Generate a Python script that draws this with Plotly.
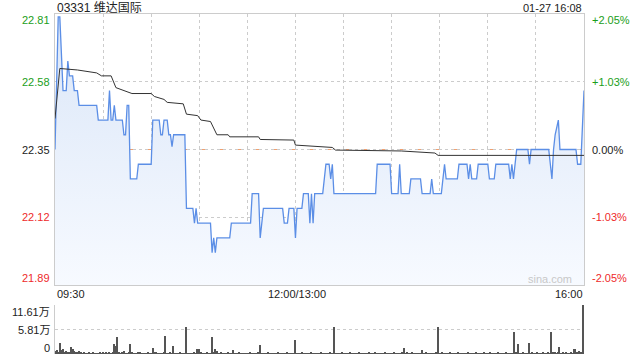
import plotly.graph_objects as go

# ---------------- data ----------------
title_text = "03331 维达国际"
date_text = "01-27 16:08"
prev_close = 22.35
price_ticks = [22.81, 22.58, 22.35, 22.12, 21.89]
pct_ticks = ["+2.05%", "+1.03%", "0.00%", "-1.03%", "-2.05%"]
x_tick_labels = ["09:30", "12:00/13:00", "16:00"]
vol_tick_labels = ["11.61万", "5.81万", "0"]
vol_max = 11.61

# price vertices (minute index from 09:30, price)
price_t = [0, 2, 3, 5, 7, 8, 9, 11, 12, 14, 15, 26, 27, 33, 34, 35, 36, 37, 38, 42,
           43, 44, 45, 46, 47, 51, 52, 60, 61, 65, 66, 67, 68, 70, 71, 72, 73, 74, 81, 82,
           86, 87, 88, 89, 97, 98, 99, 100, 101, 109, 110, 122, 123, 127, 128, 130, 142, 143, 145, 146,
           149, 150, 151, 154, 155, 158, 159, 160, 161, 162, 167, 169, 171, 172, 173, 174, 200, 201, 209, 210,
           214, 215, 216, 221, 222, 228, 229, 234, 235, 236, 241, 243, 244, 251, 252, 257, 258, 259, 260, 263,
           264, 270, 271, 274, 275, 283, 284, 285, 286, 288, 295, 296, 297, 308, 310, 311, 312, 314, 315, 325,
           326, 328, 330]
price_v = [22.35, 22.80, 22.80, 22.55, 22.55, 22.65, 22.60, 22.60, 22.55, 22.55, 22.50, 22.50, 22.45, 22.45, 22.55, 22.45, 22.45, 22.50, 22.45, 22.45,
           22.40, 22.40, 22.50, 22.50, 22.25, 22.25, 22.30, 22.30, 22.45, 22.45, 22.40, 22.40, 22.45, 22.45, 22.40, 22.40, 22.36, 22.40, 22.40, 22.15,
           22.15, 22.10, 22.15, 22.10, 22.10, 22.00, 22.05, 22.00, 22.05, 22.05, 22.10, 22.10, 22.20, 22.20, 22.05, 22.15, 22.15, 22.10, 22.10, 22.15,
           22.15, 22.05, 22.15, 22.15, 22.20, 22.20, 22.10, 22.20, 22.10, 22.20, 22.20, 22.30, 22.30, 22.25, 22.30, 22.20, 22.20, 22.30, 22.30, 22.20,
           22.20, 22.30, 22.20, 22.20, 22.25, 22.25, 22.20, 22.20, 22.25, 22.20, 22.20, 22.30, 22.25, 22.25, 22.30, 22.30, 22.25, 22.30, 22.25, 22.25,
           22.30, 22.30, 22.25, 22.25, 22.30, 22.30, 22.25, 22.30, 22.25, 22.35, 22.35, 22.30, 22.35, 22.35, 22.25, 22.35, 22.40, 22.45, 22.35, 22.35,
           22.30, 22.30, 22.55]

# average price vertices
avg_t = [0, 3, 14, 26, 29, 35, 38, 46, 48, 60, 62, 68, 70, 80, 82, 89, 91, 97, 101, 108,
         109, 127, 128, 149, 150, 173, 175, 216, 237, 239, 330]
avg_v = [22.455, 22.625, 22.62, 22.61, 22.60, 22.60, 22.56, 22.545, 22.54, 22.54, 22.53, 22.52, 22.51, 22.505, 22.47, 22.465, 22.45, 22.445, 22.40, 22.40,
         22.393, 22.393, 22.384, 22.382, 22.365, 22.357, 22.348, 22.345, 22.338, 22.33, 22.33]

# volume per minute (万 shares), minutes 0..330
volume = [
    0.7, 0.9, 0.3, 2.7, 0.9, 1.3, 0.5, 0.6, 0.3, 0.4, 1.6, 1.1, 0.6, 0.3, 0.3, 0.7, 0.3, 0.2, 0.3, 0.2, 0.2, 0.3, 0.2, 0.2, 0.3, 0.2, 0.2, 0.2, 0.4, 0.2,
    0.4, 0.2, 0.55, 0.2, 0.55, 0.2, 0.3, 2.4, 1.9, 4.0, 0.3, 0.2, 0.3, 0.7, 0.2, 0.2, 0.3, 2.4, 0.3, 0.2, 0.2, 0.2, 0.3, 0.3, 0.2, 0.2, 0.2, 0.2, 0.3, 0.2,
    0.2, 1.4, 0.3, 0.3, 0.2, 0.2, 0.2, 0.2, 0.3, 4.3, 0.2, 0.2, 0.3, 0.2, 1.9, 0.2, 0.2, 0.2, 0.3, 0.2, 0.2, 0.2, 6.4, 0.2, 0.2, 0.2, 0.2, 0.3, 0.2, 1.1,
    1.2, 0.3, 0.2, 0.2, 0.2, 0.3, 0.2, 0.2, 4.0, 0.3, 1.1, 0.7, 0.2, 0.2, 0.3, 0.2, 0.2, 0.2, 0.3, 0.2, 0.2, 0.95, 0.2, 0.2, 0.2, 0.3, 0.2, 0.2, 0.2, 0.2,
    0.2, 0.2, 0.3, 0.2, 0.2, 0.2, 0.2, 0.3, 2.1, 0.2, 0.2, 0.2, 0.2, 0.3, 0.2, 0.2, 0.2, 0.2, 0.2, 0.3, 0.2, 0.2, 0.2, 0.2, 0.2, 0.3, 0.2, 0.2, 0.2, 0.2,
    3.3, 0.2, 0.2, 0.2, 0.3, 0.2, 0.2, 0.2, 0.2, 0.2, 0.3, 0.2, 0.2, 0.2, 0.2, 0.2, 0.3, 0.2, 0.2, 0.2, 0.2, 0.2, 0.3, 0.2, 6.4, 0.2, 0.2, 0.2, 0.2, 0.3,
    0.2, 0.2, 0.2, 0.2, 0.3, 0.2, 0.2, 0.2, 0.2, 0.2, 0.3, 0.2, 0.2, 0.2, 0.2, 0.2, 0.55, 0.2, 0.2, 0.2, 0.3, 0.2, 0.2, 0.2, 0.2, 0.2, 0.3, 0.2, 0.2, 0.2,
    0.2, 0.2, 0.3, 0.2, 0.2, 0.2, 0.2, 0.3, 1.5, 0.2, 0.55, 0.2, 0.2, 0.3, 0.2, 0.2, 0.2, 0.2, 0.2, 0.95, 0.2, 0.2, 0.3, 0.2, 0.2, 0.2, 0.2, 0.2, 0.3, 6.4,
    0.2, 0.2, 0.3, 0.2, 0.2, 0.2, 0.2, 0.3, 0.2, 0.2, 0.2, 0.2, 0.3, 0.2, 0.2, 0.2, 0.2, 0.2, 0.3, 0.2, 0.2, 0.2, 0.2, 0.3, 0.2, 0.2, 0.2, 0.2, 0.3, 0.2,
    0.2, 0.2, 0.3, 0.2, 0.2, 0.2, 0.2, 0.3, 0.2, 0.2, 0.2, 0.2, 0.3, 0.2, 0.2, 0.2, 0.2, 5.1, 0.3, 2.4, 0.2, 0.2, 0.3, 0.2, 0.2, 0.2, 2.7, 0.2, 0.3, 0.2,
    0.2, 0.3, 0.2, 0.2, 0.2, 0.3, 0.2, 0.2, 0.3, 0.2, 5.2, 0.3, 0.55, 0.2, 0.3, 1.7, 0.2, 0.55, 0.2, 0.3, 0.2, 0.2, 0.55, 0.2, 1.3, 1.3, 0.3, 0.7, 0.3, 0.55,
    11.61,
]
vol_t = list(range(len(volume)))
grid_minutes = [30, 60, 90, 120, 150, 180, 210, 240, 270, 300]

# ---------------- layout helpers ----------------
W, H = 640, 360
def px(x):
    return x / W
def py(y):
    return 1 - y / H

FONT = "Liberation Sans, Arial, Noto Sans CJK SC, sans-serif"
GREEN = "#1a9e1a"
RED = "#ee2a2a"
BLACK = "#222222"
GRID = "#cccccc"

fig = go.Figure()

fig.add_trace(go.Scatter(
    x=price_t, y=price_v, mode="lines",
    line=dict(color="#5b8ee6", width=1.3),
    fill="tozeroy",
    fillgradient=dict(type="vertical", start=price_ticks[-1], stop=price_ticks[0],
                      colorscale=[[0, "rgba(247,250,255,1)"], [1, "rgba(218,230,248,1)"]]),
    xaxis="x", yaxis="y", hoverinfo="skip", showlegend=False,
))
fig.add_trace(go.Scatter(
    x=avg_t, y=avg_v, mode="lines",
    line=dict(color="#333333", width=1),
    xaxis="x", yaxis="y", hoverinfo="skip", showlegend=False,
))
fig.add_trace(go.Bar(
    x=vol_t, y=volume, width=0.65, marker=dict(color="#555555", line=dict(width=0)),
    xaxis="x2", yaxis="y2", hoverinfo="skip", showlegend=False,
))

x_dom = [px(55), px(584)]
fig.update_layout(
    width=W, height=H, margin=dict(l=0, r=0, t=0, b=0),
    paper_bgcolor="white", plot_bgcolor="white",
    font=dict(family=FONT, size=11, color=BLACK),
    xaxis=dict(domain=x_dom, range=[0, 330], anchor="y",
               tickvals=grid_minutes, showticklabels=False, ticks="",
               showgrid=True, gridcolor=GRID, griddash="dot", gridwidth=1,
               showline=True, linecolor=GRID, linewidth=1, mirror=True, zeroline=False),
    yaxis=dict(domain=[py(285), py(14)], range=[price_ticks[-1], price_ticks[0]], anchor="x",
               tickvals=[price_ticks[1], price_ticks[2], price_ticks[3]], showticklabels=False, ticks="",
               showgrid=True, gridcolor=GRID, griddash="dot", gridwidth=1,
               showline=True, linecolor=GRID, linewidth=1, mirror=True, zeroline=False),
    xaxis2=dict(domain=x_dom, range=[0, 330.4], anchor="y2",
                showticklabels=False, ticks="", showgrid=False, showline=False, zeroline=False),
    yaxis2=dict(domain=[py(354), py(305)], range=[0, vol_max], anchor="x2",
                tickvals=[vol_max / 2, vol_max], showticklabels=False, ticks="",
                showgrid=True, gridcolor=GRID, griddash="dot", gridwidth=1,
                showline=True, linecolor=GRID, linewidth=1, zeroline=False),
    bargap=0,
)

# previous close dashed line
fig.add_shape(type="line", xref="x", yref="y", x0=0, x1=330, y0=prev_close, y1=prev_close,
              line=dict(color="#f0a070", width=1, dash="dash"), layer="below")

ann = []
def text(x, y, s, color=BLACK, size=11, xanchor="left"):
    ann.append(dict(x=px(x), y=py(y), xref="paper", yref="paper", text=s, showarrow=False,
                    xanchor=xanchor, yanchor="middle", font=dict(family=FONT, size=size, color=color)))

text(55, 8, title_text, size=12)
text(584, 8, date_text, xanchor="right")

label_y = [20, 82, 150, 217, 278]
label_col = [GREEN, GREEN, BLACK, RED, RED]
for p, pc, y, c in zip(price_ticks, pct_ticks, label_y, label_col):
    text(52, y, f"{p:.2f}", color=c, xanchor="right")
    text(590, y, pc, color=c)

text(55, 294, x_tick_labels[0])
text(297, 294, x_tick_labels[1], xanchor="center")
text(585, 294, x_tick_labels[2], xanchor="right")

for s, y in zip(vol_tick_labels, [312, 330, 348]):
    text(52, y, s, xanchor="right")

text(574, 279, "sina.com", color="#c8c8c8", xanchor="right")

fig.update_layout(annotations=ann)
fig.write_html("out.html")
